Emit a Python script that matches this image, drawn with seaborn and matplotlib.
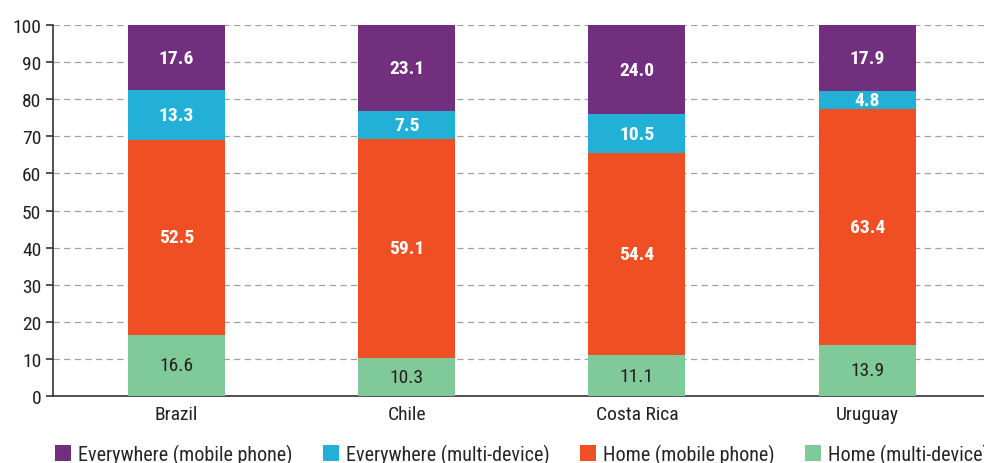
import numpy as np
import pandas as pd
import seaborn as sns
import matplotlib.pyplot as plt
from matplotlib.patches import Patch

# data
countries = ['Brazil', 'Chile', 'Costa Rica', 'Uruguay']
home_multi = [16.6, 10.3, 11.1, 13.9]
home_mobile = [52.5, 59.1, 54.4, 63.4]
every_multi = [13.3, 7.5, 10.5, 4.8]
every_mobile = [17.6, 23.1, 24.0, 17.9]

series_names = ['Home (multi-device)', 'Home (mobile phone)',
                'Everywhere (multi-device)', 'Everywhere (mobile phone)']
series_values = [home_multi, home_mobile, every_multi, every_mobile]
colors = ['#80CA9A', '#F04E23', '#22B0D6', '#722F7E']
label_colors = ['#231F20', 'white', 'white', 'white']
label_weights = ['normal', 'bold', 'bold', 'bold']

sns.set_style('white')
plt.rcParams['font.family'] = ['Roboto Condensed', 'DejaVu Sans']
plt.rcParams['font.stretch'] = 'condensed'

fig = plt.figure(figsize=(9.84, 4.64), dpi=100)
ax = fig.add_axes([0.054, 0.144, 0.946, 0.80])

bottom = np.zeros(len(countries))
for name, vals, col, lc, lw in zip(series_names, series_values, colors,
                                   label_colors, label_weights):
    df = pd.DataFrame({'country': countries, 'value': vals})
    sns.barplot(data=df, x='country', y='value', color=col, width=0.421,
                bottom=bottom, linewidth=0, saturation=1, ax=ax, zorder=3)
    for i, v in enumerate(vals):
        ax.text(i, bottom[i] + v / 2, f'{v:.1f}', ha='center', va='center',
                color=lc, fontsize=14, fontweight=lw, zorder=4)
    bottom = bottom + np.array(vals)

ax.set_xlim(-0.535, 3.507)
ax.set_ylim(0, 100)
ax.set_yticks(range(0, 101, 10))
ax.set_xlabel('')
ax.set_ylabel('')
ax.grid(axis='y', linestyle=(0, (5, 3.5)), color='#a0a0a0', linewidth=0.9, zorder=0)
ax.set_axisbelow(True)

for s in ['top', 'right']:
    ax.spines[s].set_visible(False)
for s in ['left', 'bottom']:
    ax.spines[s].set_color('#333333')
    ax.spines[s].set_linewidth(1.2)

ax.set_xticks([0.481, 1.50, 2.516], minor=True)
ax.tick_params(axis='x', which='major', length=0, labelsize=14, pad=6, colors='#231F20')
ax.tick_params(axis='x', which='minor', length=7, width=1.2, direction='out', color='#333333')
ax.tick_params(axis='y', length=5, width=1.2, direction='out', labelsize=14,
               colors='#231F20', left=True)
ax.tick_params(axis='y', color='#333333')

# legend in original order (Everywhere first)
handles = [Patch(facecolor=c, edgecolor='none') for c in colors[::-1]]
fig.legend(handles, series_names[::-1], loc='center left', ncol=4,
           bbox_to_anchor=(0.056, 0.0194), frameon=False, fontsize=14.5,
           borderpad=0, borderaxespad=0, handlelength=0.8, handleheight=0.8,
           columnspacing=1.5, handletextpad=0.35)

fig.savefig('out.png', dpi=100)
